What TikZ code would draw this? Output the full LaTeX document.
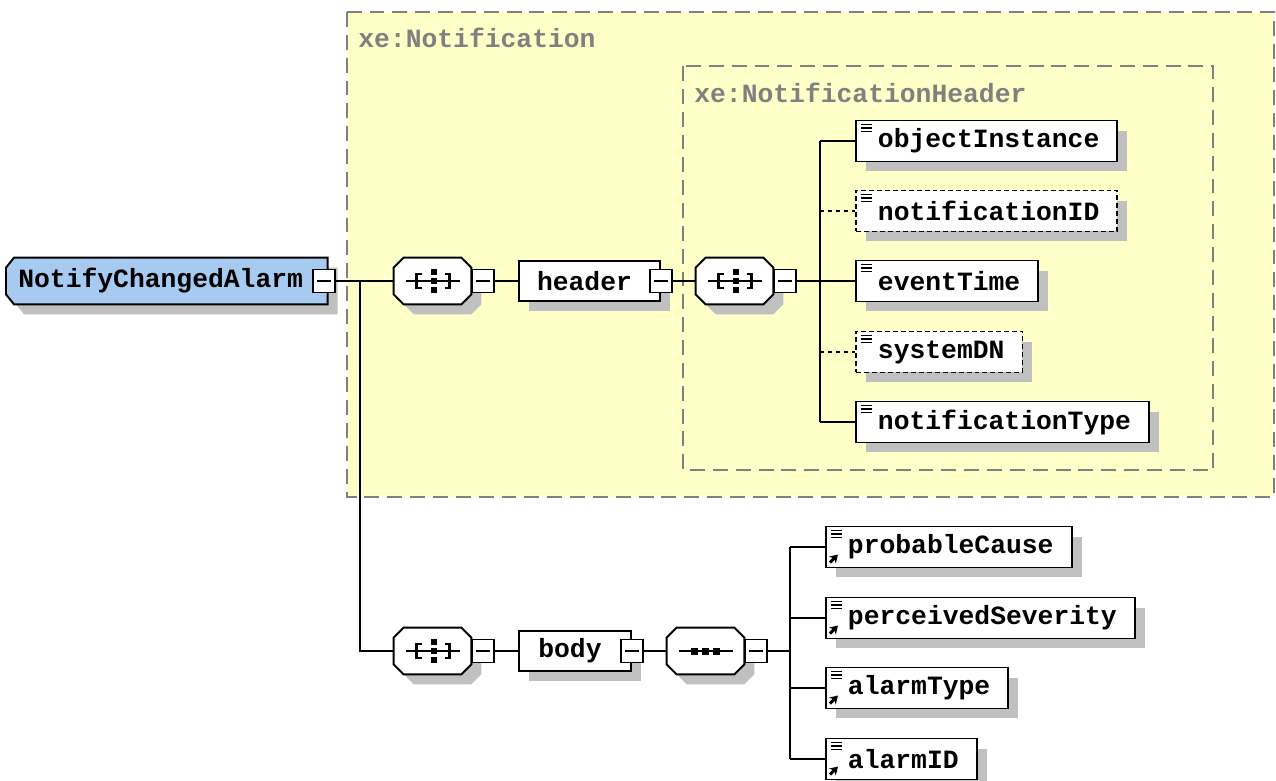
\documentclass[tikz,border=0pt]{standalone}
\usepackage{fontspec}
\newfontfamily\xsdfont{Liberation Mono}
\usetikzlibrary{shadows,calc,arrows.meta}
\definecolor{notifyyellow}{HTML}{FFFFC8}
\definecolor{rootblue}{HTML}{A6CAF0}
\definecolor{shadowgray}{HTML}{C0C0C0}
\definecolor{groupgray}{HTML}{808080}
\pgfdeclarelayer{back}
\pgfdeclarelayer{mid}
\pgfsetlayers{back,mid,main}
\newcommand\listglyph{\foreach \d in {4,7.5,11} \draw[solid,line width=0.7pt] ($(path picture bounding box.north west)+(5,\d)$) -- ++(11,0);}
\newcommand\refglyph{\draw[solid,line width=1.7pt,-{Stealth[length=4.5pt,width=5.5pt]}] ($(path picture bounding box.south west)+(4,-5)$) -- ++(8,-8);}
\begin{document}
\begin{tikzpicture}[x=0.02cm,y=-0.02cm]
\tikzstyle{every node}=[font=\fontsize{15}{18}\xsdfont\bfseries]
\tikzstyle{shade}=[general shadow={fill=shadowgray,shadow xshift=0.2cm,shadow yshift=-0.2cm}]
\tikzstyle{group}=[draw=groupgray,fill=notifyyellow,line width=1.1pt,dash pattern=on 8.5pt off 4.5pt]
\tikzstyle{grouplabel}=[anchor=west,text=groupgray,inner sep=0pt]
\tikzstyle{link}=[line width=0.85pt]
\tikzstyle{optlink}=[link,dash pattern=on 2.5pt off 2pt]
\tikzstyle{glyph}=[line width=1.2pt]
\tikzstyle{elem}=[draw,fill=white,line width=1.1pt,shade,anchor=west,minimum height=0.82cm,inner xsep=0.36cm,inner ysep=0pt,execute at begin node={\hspace*{0.08cm}},path picture={\listglyph}]
\tikzstyle{optelem}=[elem,dash pattern=on 2.8pt off 1.7pt]
\tikzstyle{refelem}=[elem,path picture={\listglyph\refglyph}]
\tikzstyle{box}=[draw,fill=white,line width=1.1pt,shade,minimum height=0.8cm,inner sep=0pt]
\tikzstyle{compositor}=[minimum width=1.54cm,minimum height=0.92cm,inner sep=0pt]
\tikzstyle{octa}=[draw,fill=white,line width=1.1pt,shade]
\tikzstyle{rootel}=[anchor=west,minimum width=6.42cm,minimum height=0.92cm,inner xsep=0.24cm,text width=5.94cm,align=left]
\tikzstyle{minus}=[draw,fill=white,line width=1.1pt,minimum width=0.44cm,minimum height=0.46cm,inner sep=0pt,path picture={\draw[line width=1pt] ($(path picture bounding box.west)+(4,0)$) -- ($(path picture bounding box.east)+(-4,0)$);}]

\useasboundingbox (0,0) rectangle (1276,781);

% groups
\begin{pgfonlayer}{back}
\fill[white] (0,0) rectangle (1276,781);
\draw[group] (347,12) rectangle (1274,497);
\draw[group] (683,66) rectangle (1213,470);
\end{pgfonlayer}
\node[grouplabel] (notificationLabel) at (358,38) {xe:Notification};
\node[grouplabel] (headerLabel) at (694,93) {xe:NotificationHeader};

% forks
\coordinate (rootFork) at (360,281);
\coordinate (headerFork) at (820,281);
\coordinate (bodyFork) at (790,651);

% root element
\node[rootel] (NotifyChangedAlarm) at (6,281) {NotifyChangedAlarm};
\begin{pgfonlayer}{mid}
\draw[octa,fill=rootblue] ($(NotifyChangedAlarm.north west)+(8,0)$) -- (NotifyChangedAlarm.north east)
  -- (NotifyChangedAlarm.south east) -- ($(NotifyChangedAlarm.south west)+(8,0)$)
  -- ($(NotifyChangedAlarm.south west)+(0,-10)$) -- ($(NotifyChangedAlarm.north west)+(0,10)$) -- cycle;
\end{pgfonlayer}
\node[minus] (rootMinus) at ([xshift=-0.07cm]NotifyChangedAlarm.east) {};

% compositors
\node[compositor] (seqA) at (432.5,281) {};
\node[compositor] (seqB) at (432.5,651) {};
\node[compositor] (seqC) at (734.5,281) {};
\node[compositor] (seqD) at (705.5,651) {};
\begin{pgfonlayer}{mid}
\foreach \c in {seqA,seqB,seqC,seqD}
  \draw[octa] ($(\c.north west)+(10,0)$) -- ($(\c.north east)+(-10,0)$) -- ($(\c.north east)+(0,10)$)
    -- ($(\c.south east)+(0,-10)$) -- ($(\c.south east)+(-10,0)$) -- ($(\c.south west)+(10,0)$)
    -- ($(\c.south west)+(0,-10)$) -- ($(\c.north west)+(0,10)$) -- cycle;
\end{pgfonlayer}
\foreach \c in {seqA,seqB,seqC}
  \node[minus,anchor=west] (\c minus) at (\c.east) {};
\node[minus,anchor=west] (seqDminus) at (seqD.east) {};

% compositor icons
\foreach \c in {seqA,seqB,seqC} {
  \begin{scope}[shift={(\c.center)}]
    \draw[link] (-27,0) -- (27,0);
    \draw[glyph] (-11,-7) -- (-16,-7) -- (-16,7) -- (-11,7);
    \draw[glyph] (12,-7) -- (17,-7) -- (17,7) -- (12,7);
    \foreach \y in {-9,0,9} \fill (-1.5,\y-3) rectangle (4.5,\y+3);
  \end{scope}}
\begin{scope}[shift={(seqD.center)}]
  \draw[link] (-27,0) -- (27,0);
  \foreach \x in {-11,0,11} \fill (\x-3.5,-3.5) rectangle (\x+3.5,3.5);
\end{scope}

% header and body
\node[box,minimum width=2.82cm] (header) at (589.5,281) {header\hspace*{0.2cm}};
\node[minus] (headerMinus) at (header.east) {};
\node[box,minimum width=2.24cm] (body) at (575,651) {body\hspace*{0.2cm}};
\node[minus] (bodyMinus) at (body.east) {};

% header elements
\node[elem] (objectInstance) at (855,141) {objectInstance};
\node[optelem] (notificationID) at (855,211) {notificationID};
\node[elem] (eventTime) at (855,281) {eventTime};
\node[optelem] (systemDN) at (855,352) {systemDN};
\node[elem] (notificationType) at (855,422) {notificationType};

% body elements
\node[refelem] (probableCause) at (825,547) {probableCause};
\node[refelem] (perceivedSeverity) at (825,618) {perceivedSeverity};
\node[refelem] (alarmType) at (825,688) {alarmType};
\node[refelem] (alarmID) at (825,759) {alarmID};

% connectors
\draw[link] (rootMinus.east) -- (seqA.west);
\draw[link] (rootFork) |- (seqB.west);
\draw[link] (seqAminus.east) -- (header.west);
\draw[link] (headerMinus.east) -- (seqC.west);
\draw[link] (seqBminus.east) -- (body.west);
\draw[link] (bodyMinus.east) -- (seqD.west);
\draw[link] (seqCminus.east) -- (headerFork);
\draw[link] (headerFork |- objectInstance.west) -- (headerFork |- notificationType.west);
\foreach \e in {objectInstance,eventTime,notificationType}
  \draw[link] (headerFork |- \e.west) -- (\e.west);
\foreach \e in {notificationID,systemDN}
  \draw[optlink] (headerFork |- \e.west) -- (\e.west);
\draw[link] (seqDminus.east) -- (bodyFork);
\draw[link] (bodyFork |- probableCause.west) -- (bodyFork |- alarmID.west);
\foreach \e in {probableCause,perceivedSeverity,alarmType,alarmID}
  \draw[link] (bodyFork |- \e.west) -- (\e.west);
\end{tikzpicture}
\end{document}
